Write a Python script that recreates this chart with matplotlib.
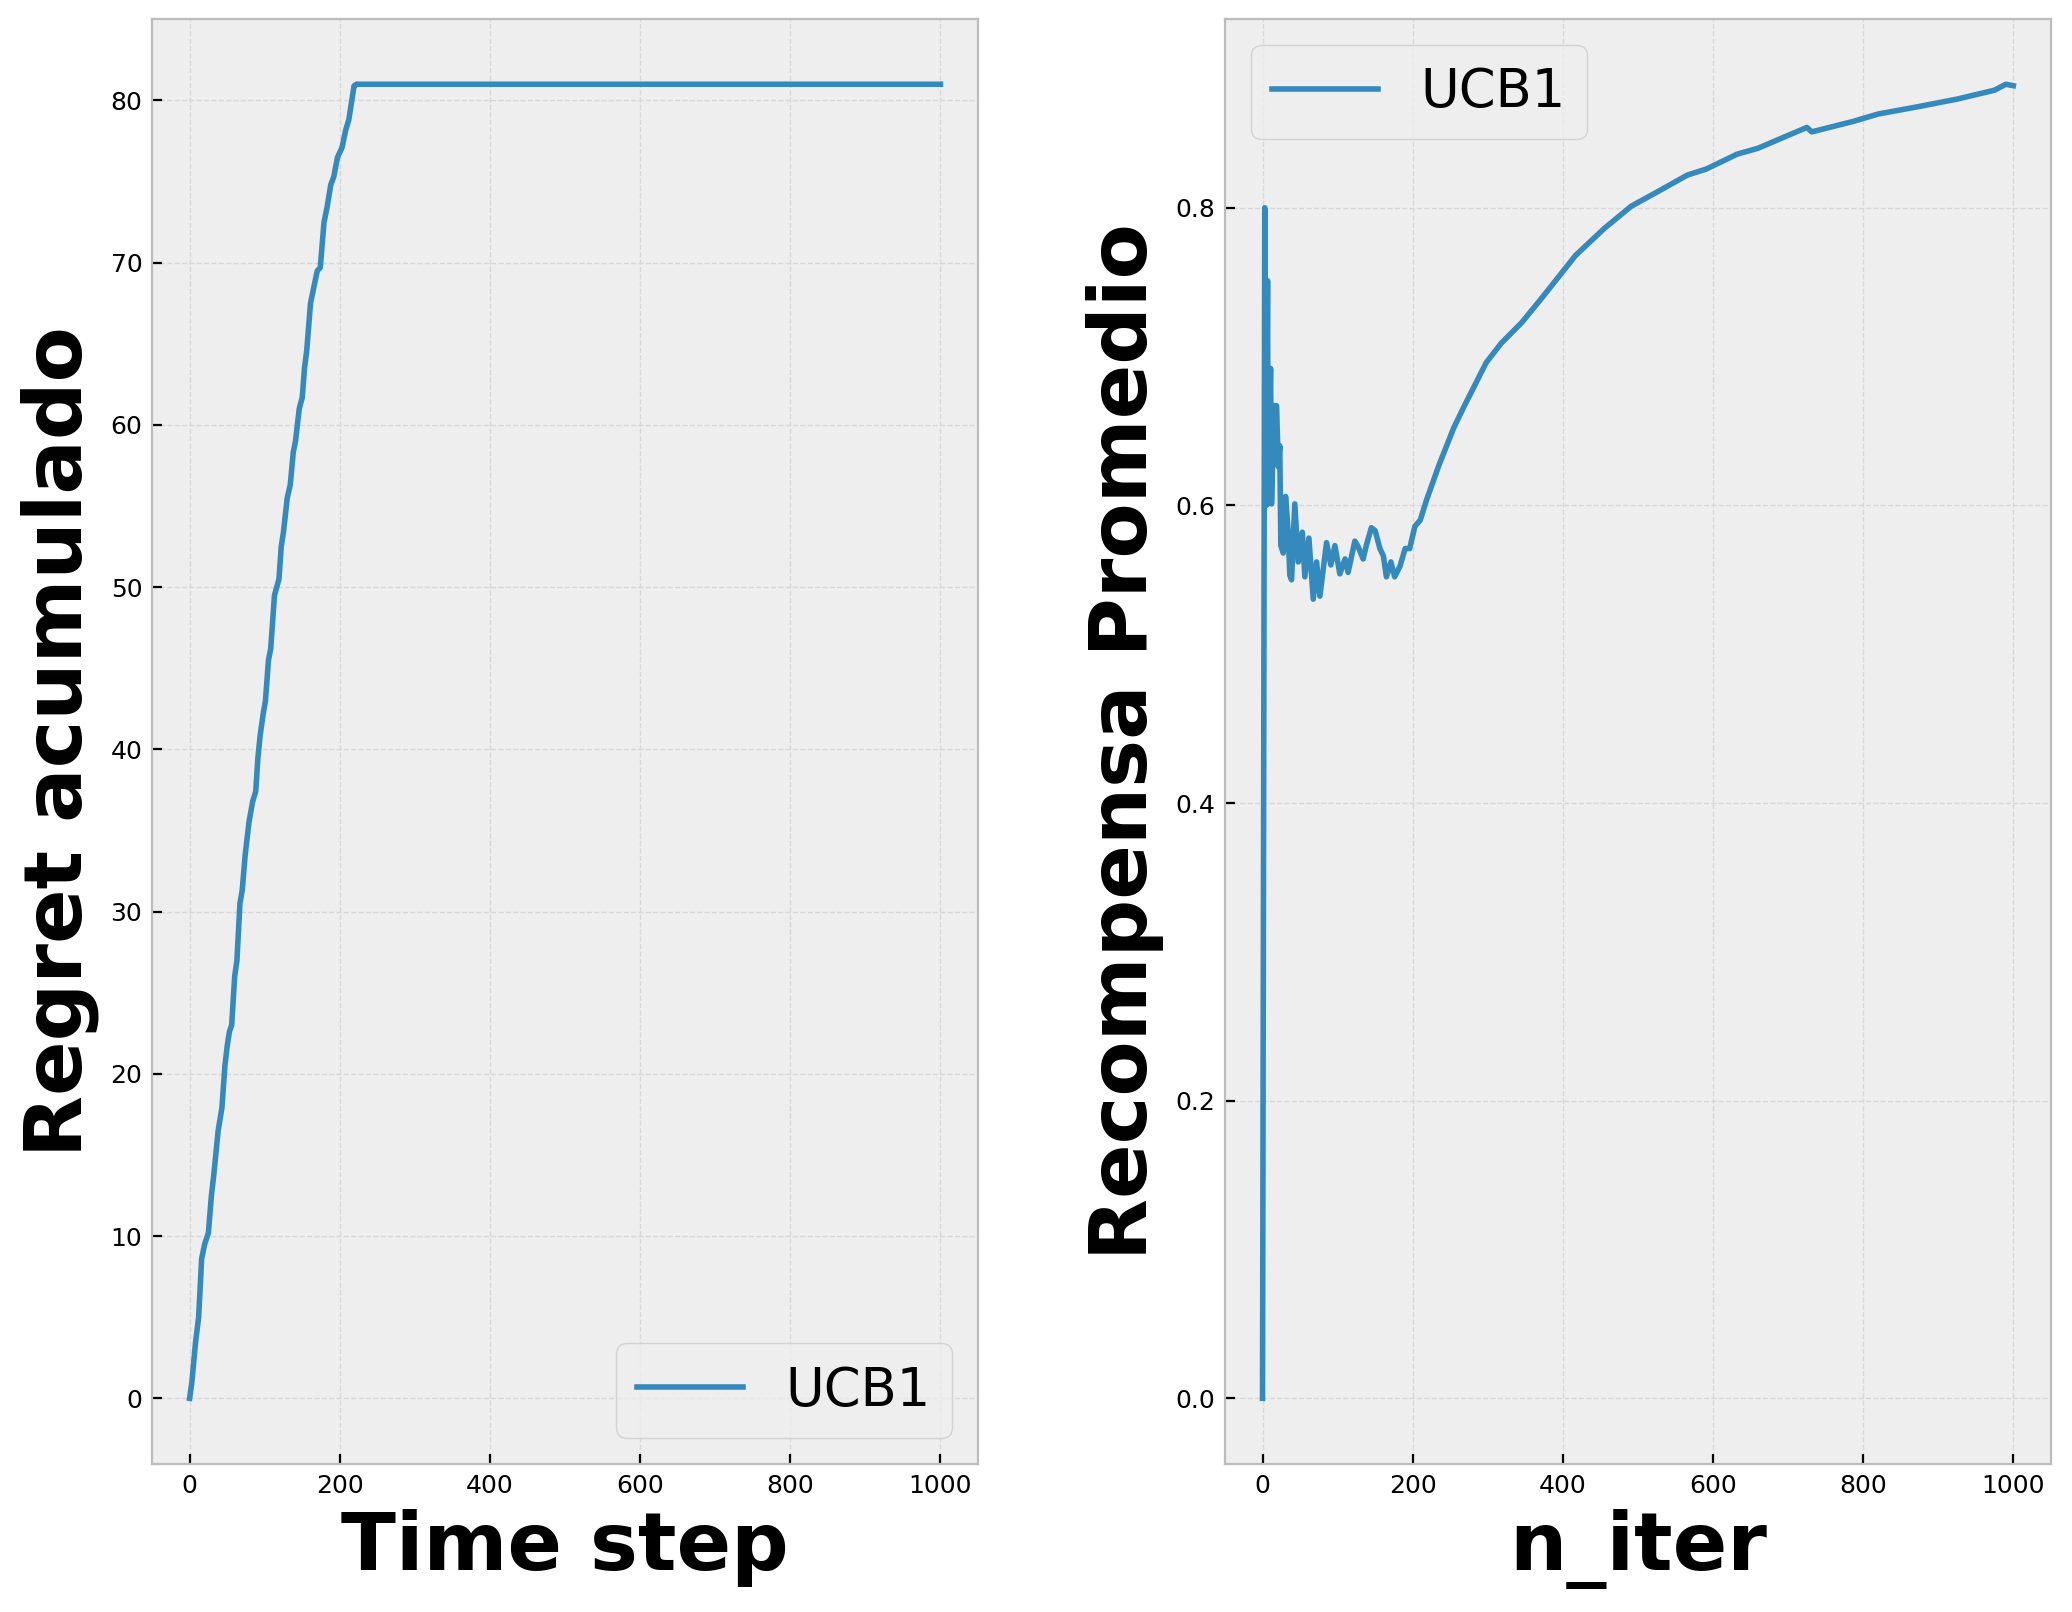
import matplotlib
matplotlib.use("Agg")
import matplotlib.pyplot as plt

plt.style.use("bmh")

# Left panel: cumulative regret (breakpoints)
regret_t = [0, 3, 8, 12, 16, 20, 25, 29, 32, 38, 43, 47, 50, 53, 56, 60, 63, 67, 70, 74,
            79, 84, 88, 91, 94, 98, 101, 105, 108, 113, 119, 122, 125, 130, 134, 138, 141,
            146, 150, 153, 156, 161, 165, 170, 174, 179, 183, 188, 192, 197, 203, 208, 212,
            216, 219, 222, 1000]
regret_v = [0, 1.0, 3.5, 5.0, 8.6, 9.5, 10.2, 12.5, 13.7, 16.5, 17.9, 20.5, 21.7, 22.6, 23.0,
            26.0, 27.0, 30.5, 31.3, 33.5, 35.5, 36.8, 37.4, 39.5, 40.9, 42.2, 43.0, 45.5, 46.2,
            49.5, 50.5, 52.5, 53.4, 55.5, 56.3, 58.3, 59.0, 61.0, 61.7, 63.5, 64.6, 67.5, 68.4,
            69.5, 69.7, 72.5, 73.4, 74.8, 75.3, 76.5, 77.1, 78.2, 78.8, 80.0, 80.9, 81.0, 81.0]

# Right panel: average reward (breakpoints)
reward_t = [0, 3, 5, 6.7, 7.5, 10.7, 12, 15.5, 18.7, 21, 23, 24.4, 27.6, 30.7, 34, 36.4, 38.7,
            43, 47.6, 53, 56.4, 61.8, 67.6, 72, 76.4, 85.3, 91, 96.4, 103, 110, 114, 123,
            127.6, 134, 138.7, 145, 150, 156.4, 161, 165, 171, 176, 183, 190, 196, 203, 210,
            218.7, 235, 254.6, 268, 298, 318, 345.5, 373, 417, 455, 491, 527, 566, 591, 632,
            660, 725, 731.5, 786.6, 820, 874, 925, 975, 990, 1000]
reward_v = [0.0, 0.80, 0.60, 0.751, 0.601, 0.692, 0.601, 0.667, 0.667, 0.626, 0.640, 0.573,
            0.568, 0.606, 0.584, 0.553, 0.550, 0.601, 0.562, 0.582, 0.552, 0.578, 0.537, 0.562,
            0.539, 0.575, 0.560, 0.573, 0.554, 0.564, 0.555, 0.576, 0.572, 0.564, 0.574, 0.585,
            0.583, 0.571, 0.566, 0.552, 0.562, 0.552, 0.559, 0.571, 0.571, 0.586, 0.590, 0.604,
            0.627, 0.652, 0.666, 0.696, 0.709, 0.723, 0.740, 0.768, 0.786, 0.801, 0.811, 0.822,
            0.826, 0.836, 0.840, 0.854, 0.851, 0.858, 0.863, 0.868, 0.873, 0.879, 0.883, 0.882]

series_label = "UCB1"

fig = plt.figure(figsize=(10.36, 8.06), dpi=200)
ax1 = fig.add_axes([0.0734, 0.0918, 0.3986, 0.8967])
ax2 = fig.add_axes([0.5912, 0.0918, 0.3986, 0.8967])

ax1.plot(regret_t, regret_v, color="#348ABD", lw=2, label=series_label)
ax1.set_xlabel("Time step", fontsize=29, fontweight="bold")
ax1.set_ylabel("Regret acumulado", fontsize=29, fontweight="bold")
ax1.legend(loc="lower right", fontsize=19)

ax2.plot(reward_t, reward_v, color="#348ABD", lw=2, label=series_label)
ax2.set_xlabel("n_iter", fontsize=29, fontweight="bold")
ax2.set_ylabel("Recompensa Promedio", fontsize=29, fontweight="bold")
ax2.legend(loc="upper left", fontsize=19)

for ax in (ax1, ax2):
    ax.tick_params(labelsize=9)
    ax.grid(True, color="#d8d8d8", linestyle="--", linewidth=0.5)

fig.savefig("out.png", dpi=200)
